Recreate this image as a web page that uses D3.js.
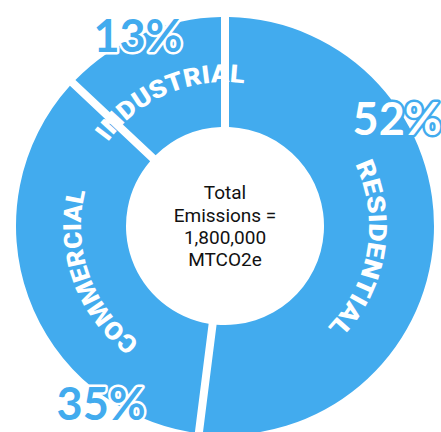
<!DOCTYPE html>
<html>
<head>
<meta charset="utf-8">
<script src="https://cdn.jsdelivr.net/npm/d3@7"></script>
<style>
  html, body { margin: 0; padding: 0; background: #fff; }
  svg { display: block; }
</style>
</head>
<body>
<div id="chart"></div>
<script>
// data
var sectors = ["RESIDENTIAL", "COMMERCIAL", "INDUSTRIAL"];
var shares = [52, 35, 13];
var centerLines = ["Total", "Emissions =", "1,800,000", "MTCO2e"];

var width = 441, height = 432;
var cx = 225, cy = 226;
var outerR = 209, innerR = 99;
var blue = "#42abee";

// where the big % labels sit (angle in degrees, radius) - layout only
var pctPos = [{a: 58, r: 203, fill: "#fff", stroke: blue},
              {a: 215, r: 216, fill: blue, stroke: "#fff"},
              {a: 335.5, r: 210, fill: blue, stroke: "#fff"}];
var labelShift = [6, 0, 0];      // degrees
var labelLen = [176, 170, 156];  // px along the arc

var svg = d3.select("#chart").append("svg")
  .attr("width", width)
  .attr("height", height);

var g = svg.append("g").attr("transform", "translate(" + cx + "," + cy + ")");

var pie = d3.pie().sort(null).value(function(d) { return d; });
var arcs = pie(shares);

var arc = d3.arc()
  .innerRadius(innerR)
  .outerRadius(outerR)
  .padRadius(outerR)
  .padAngle(8 / outerR);

g.selectAll("path.slice")
  .data(arcs)
  .enter()
  .append("path")
  .attr("class", "slice")
  .attr("d", arc)
  .attr("fill", blue);

// curved sector names
var labelR = 144;
function arcPath(a0, a1, r) {
  return "M" + (r * Math.sin(a0)) + "," + (-r * Math.cos(a0)) +
    "A" + r + "," + r + " 0 0 1 " + (r * Math.sin(a1)) + "," + (-r * Math.cos(a1));
}
var rad = Math.PI / 180;

g.selectAll("path.guide")
  .data(arcs)
  .enter()
  .append("path")
  .attr("class", "guide")
  .attr("id", function(d, i) { return "guide" + i; })
  .attr("fill", "none")
  .attr("d", function(d, i) {
    var mid = (d.startAngle + d.endAngle) / 2 + labelShift[i] * rad;
    return arcPath(mid - Math.PI / 2, mid + Math.PI / 2, labelR);
  });

var names = g.selectAll("text.name")
  .data(arcs)
  .enter()
  .append("text")
  .attr("class", "name")
  .attr("fill", "#fff")
  .attr("font-family", "Roboto")
  .attr("font-weight", 900)
  .attr("font-size", 25);

names.append("textPath")
  .attr("href", function(d, i) { return "#guide" + i; })
  .attr("startOffset", "50%")
  .attr("text-anchor", "middle")
  .attr("textLength", function(d, i) { return labelLen[i]; })
  .attr("lengthAdjust", "spacingAndGlyphs")
  .text(function(d, i) { return sectors[i]; });

// percentages
g.selectAll("text.pct")
  .data(arcs)
  .enter()
  .append("text")
  .attr("class", "pct")
  .attr("x", function(d, i) { return pctPos[i].r * Math.sin(pctPos[i].a * rad); })
  .attr("y", function(d, i) { return -pctPos[i].r * Math.cos(pctPos[i].a * rad); })
  .attr("text-anchor", "middle")
  .attr("dominant-baseline", "central")
  .attr("fill", function(d, i) { return pctPos[i].fill; })
  .attr("stroke", function(d, i) { return pctPos[i].stroke; })
  .attr("stroke-width", 5)
  .attr("stroke-linejoin", "round")
  .style("paint-order", "stroke")
  .style("font-family", "Lato, sans-serif")
  .style("font-weight", "700")
  .style("font-size", "45px")
  .text(function(d) { return d.data + "%"; });

// center text
var lineH = 22.3;
g.append("text")
  .attr("text-anchor", "middle")
  .attr("fill", "#111")
  .style("font-family", "Roboto, sans-serif")
  .style("font-size", "19px")
  .selectAll("tspan")
  .data(centerLines)
  .enter()
  .append("tspan")
  .attr("x", 0)
  .attr("y", function(d, i) { return (i - (centerLines.length - 1) / 2) * lineH; })
  .attr("dy", "0.35em")
  .text(function(d) { return d; });
</script>
</body>
</html>
